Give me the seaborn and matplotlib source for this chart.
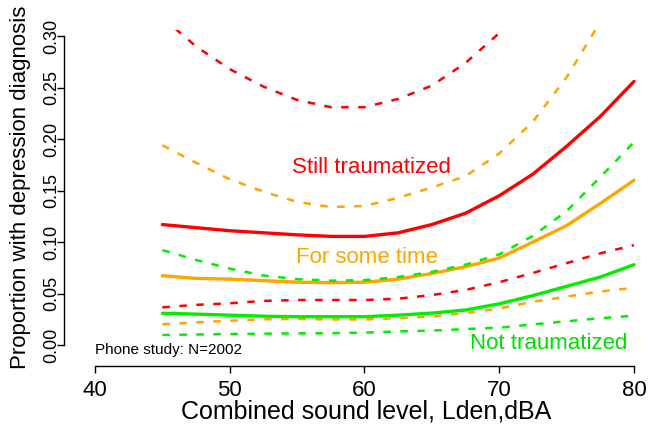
import numpy as np
import pandas as pd
import matplotlib
matplotlib.use("Agg")
import matplotlib.pyplot as plt
import seaborn as sns

# sound level grid (dBA)
lden = [45, 47.5, 50, 52.5, 55, 57.5, 60, 62.5, 65, 67.5, 70, 72.5, 75, 77.5, 80]

# still traumatized: estimate and bounds
still_est = [0.117, 0.114, 0.111, 0.109, 0.107, 0.1055, 0.1055, 0.109, 0.117, 0.128, 0.145, 0.166, 0.193, 0.222, 0.256]
still_lo = [0.0366, 0.039, 0.0405, 0.0428, 0.0437, 0.0437, 0.0437, 0.045, 0.0485, 0.0535, 0.061, 0.070, 0.0795, 0.089, 0.097]
still_hi = [0.318, 0.290, 0.268, 0.251, 0.238, 0.231, 0.231, 0.239, 0.252, 0.274, 0.303, 0.340, 0.380, 0.430, 0.480]

# for some time
some_est = [0.0673, 0.0647, 0.064, 0.0625, 0.061, 0.0605, 0.061, 0.064, 0.0695, 0.076, 0.0845, 0.100, 0.116, 0.1375, 0.160]
some_lo = [0.0201, 0.022, 0.0236, 0.025, 0.0253, 0.0248, 0.0248, 0.026, 0.0278, 0.031, 0.0355, 0.042, 0.047, 0.052, 0.0555]
some_hi = [0.194, 0.177, 0.161, 0.149, 0.139, 0.134, 0.135, 0.143, 0.153, 0.164, 0.186, 0.217, 0.260, 0.314, 0.380]

# not traumatized
not_est = [0.0308, 0.030, 0.029, 0.028, 0.0275, 0.0275, 0.0275, 0.029, 0.031, 0.034, 0.040, 0.048, 0.057, 0.066, 0.078]
not_lo = [0.0097, 0.0102, 0.0106, 0.011, 0.0113, 0.0115, 0.012, 0.0132, 0.014, 0.0155, 0.0168, 0.020, 0.023, 0.026, 0.0285]
not_hi = [0.0922, 0.0826, 0.0742, 0.0675, 0.064, 0.0625, 0.063, 0.066, 0.071, 0.078, 0.088, 0.106, 0.130, 0.163, 0.197]

red = "#FF0000"
orange = "#FFA500"
green = "#00EE00"

sns.set_style("ticks")
plt.rcParams["font.family"] = ["Liberation Sans", "DejaVu Sans"]
plt.rcParams["text.color"] = "black"
plt.rcParams["axes.labelcolor"] = "black"
plt.rcParams["xtick.color"] = "black"
plt.rcParams["ytick.color"] = "black"

fig = plt.figure(figsize=(6.55, 4.26), dpi=100)
ax = fig.add_axes([95 / 655, 81 / 426, 543 / 655, 315 / 426])

series = [
    (still_hi, red, False), (still_est, red, True), (still_lo, red, False),
    (some_hi, orange, False), (some_est, orange, True), (some_lo, orange, False),
    (not_hi, green, False), (not_est, green, True), (not_lo, green, False),
]
for vals, col, solid in series:
    df = pd.DataFrame({"x": lden, "y": vals})
    if solid:
        sns.lineplot(data=df, x="x", y="y", ax=ax, color=col, linewidth=2.4)
    else:
        sns.lineplot(data=df, x="x", y="y", ax=ax, color=col, linewidth=1.8)
        ax.lines[-1].set_dashes((3, 3.8))

ax.set_xlim(40, 80.3)
ax.set_ylim(0, 0.306)

# R-style detached axes
sns.despine(ax=ax)
ax.spines["left"].set_position(("outward", 22))
ax.spines["bottom"].set_position(("outward", 15))
ax.spines["left"].set_bounds(0, 0.30)
ax.spines["bottom"].set_bounds(40, 80)
for s in ["left", "bottom"]:
    ax.spines[s].set_color("black")
    ax.spines[s].set_linewidth(1.0)

ax.set_xticks([40, 50, 60, 70, 80])
ax.set_yticks(np.arange(0, 0.31, 0.05))
ax.set_yticklabels([f"{v:.2f}" for v in np.arange(0, 0.31, 0.05)], rotation=90, va="center")
ax.tick_params(axis="x", labelsize=16, length=5, width=1, pad=5, colors="black")
ax.tick_params(axis="y", labelsize=13, length=5, width=1, pad=-2, colors="black")

ax.set_xlabel("Combined sound level, Lden,dBA", fontsize=18, labelpad=-1)
ax.set_ylabel("Proportion with depression diagnosis", fontsize=16, labelpad=9)

ax.text(60.5, 0.1728, "Still traumatized", color=red, fontsize=16, ha="center", va="center")
ax.text(60.2, 0.0854, "For some time", color=orange, fontsize=16, ha="center", va="center")
ax.text(73.7, 0.0019, "Not traumatized", color="#00DD00", fontsize=16, ha="center", va="center")
ax.text(40.0, -0.0048, "Phone study: N=2002", color="black", fontsize=11, ha="left", va="center")

fig.savefig("out.png", dpi=100)
